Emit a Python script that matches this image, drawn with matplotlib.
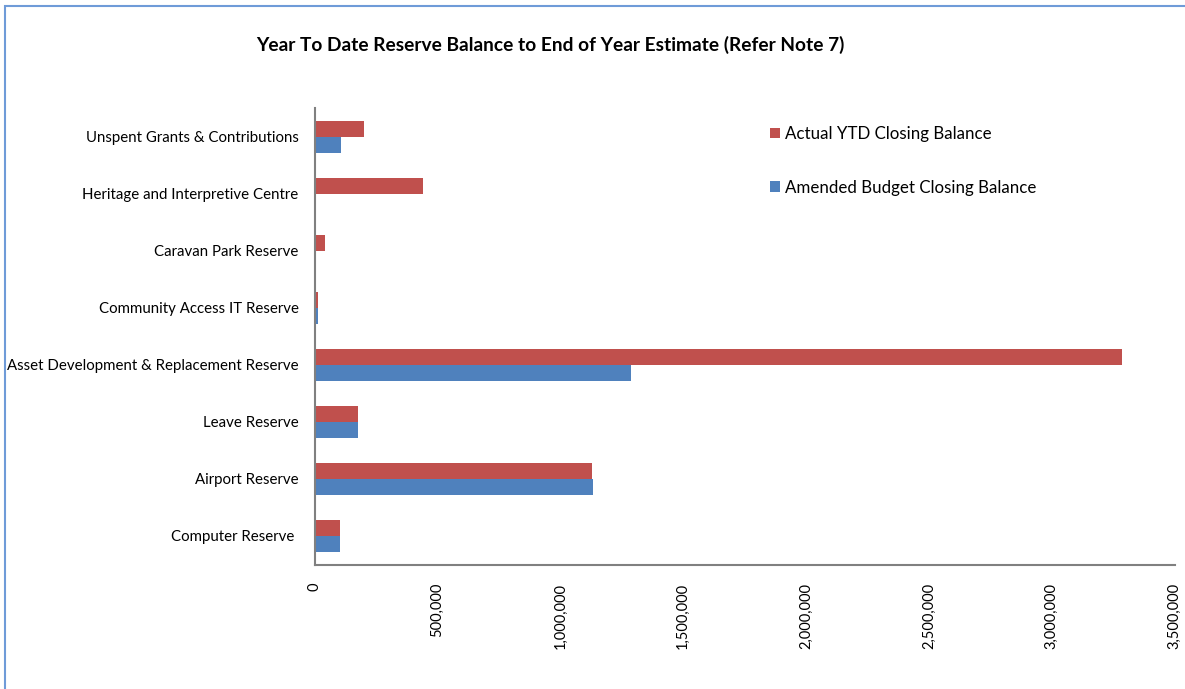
import matplotlib
matplotlib.use("Agg")
import matplotlib.pyplot as plt
from matplotlib.patches import Rectangle
from matplotlib.ticker import FuncFormatter
import numpy as np

categories = ["Computer Reserve ", "Airport Reserve", "Leave Reserve",
              "Asset Development & Replacement Reserve", "Community Access IT Reserve",
              "Caravan Park Reserve", "Heritage and Interpretive Centre",
              "Unspent Grants & Contributions"]
actual_ytd = [105000, 1130000, 175000, 3285000, 14000, 44000, 440000, 200000]
amended_budget = [105000, 1134000, 177000, 1289000, 13000, 0, 0, 109000]
series_names = ["Actual YTD Closing Balance", "Amended Budget Closing Balance"]
xticks = [0, 500000, 1000000, 1500000, 2000000, 2500000, 3000000, 3500000]

RED = "#C0504D"
BLUE = "#4F81BD"

plt.rcParams['font.family'] = ['Lato', 'DejaVu Sans']

W, H = 1185, 689
fig = plt.figure(figsize=(W / 100, H / 100), dpi=100)
ax = fig.add_axes([314.5 / W, 1 - 564.5 / H, 860 / W, (564.5 - 108) / H])

y = np.arange(len(categories))
h = 0.28
ax.barh(y + h / 2, actual_ytd, height=h, color=RED, label=series_names[0])
ax.barh(y - h / 2, amended_budget, height=h, color=BLUE, label=series_names[1])

ax.set_ylim(-0.5, len(categories) - 0.5)
ax.set_xlim(0, 3500000)
ax.set_yticks(y)
ax.set_yticklabels(categories, fontsize=10.8)
ax.set_xticks(xticks)
ax.xaxis.set_major_formatter(FuncFormatter(lambda v, p: f"{int(v):,}"))
for lab in ax.get_xticklabels():
    lab.set_rotation(90)
    lab.set_fontsize(10.5)
ax.tick_params(axis='x', length=0, pad=13)
ax.tick_params(axis='y', length=0, pad=11.5)
for s in ["top", "right"]:
    ax.spines[s].set_visible(False)
for s in ["left", "bottom"]:
    ax.spines[s].set_color("#808080")
    ax.spines[s].set_linewidth(1.5)

fig.text(550 / W, 1 - 45 / H, "Year To Date Reserve Balance to End of Year Estimate (Refer Note 7)",
         ha="center", va="center", fontsize=13.8, fontweight="bold")

leg = fig.legend(loc="upper left", bbox_to_anchor=(755 / W, 1 - 111 / H), frameon=False,
                 fontsize=12.2, handlelength=0.55, handleheight=0.55, handletextpad=0.3,
                 labelspacing=2.2)

fig.add_artist(Rectangle((5 / W, -0.1), 1.2, 1.1 - 6 / H, transform=fig.transFigure,
                         fill=False, edgecolor="#6F9BD8", linewidth=1.5))

fig.savefig("out.png", dpi=100)
